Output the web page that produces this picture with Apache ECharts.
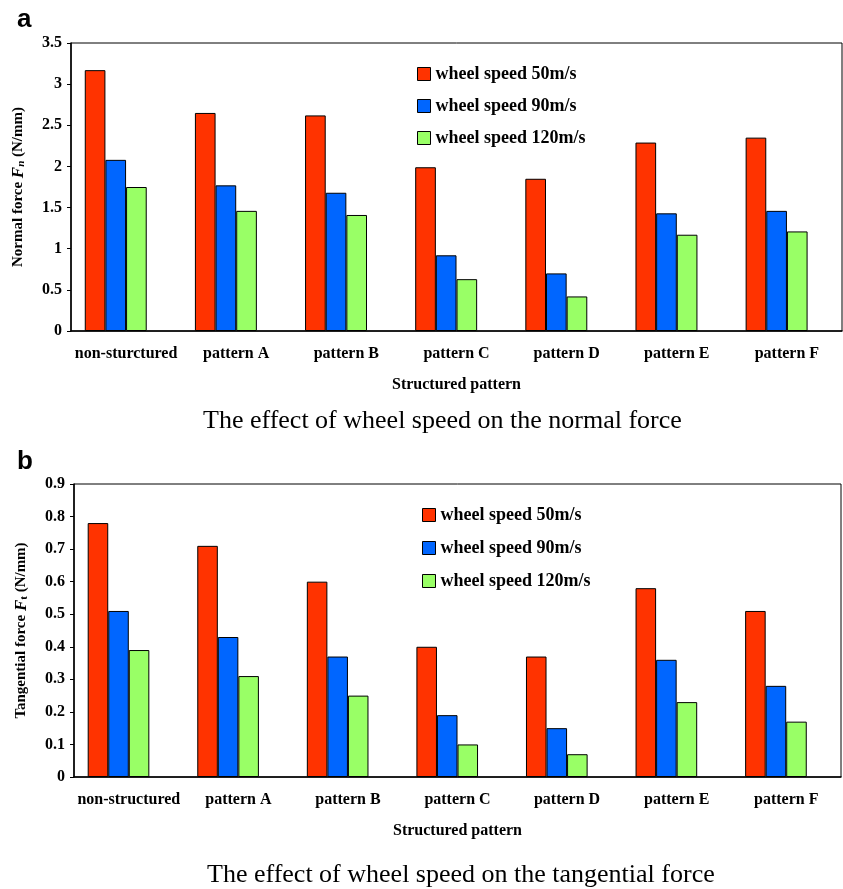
<!DOCTYPE html>
<html>
<head>
<meta charset="utf-8">
<script src="https://cdn.jsdelivr.net/npm/echarts@6/dist/echarts.min.js"></script>
<style>
  html, body { margin: 0; padding: 0; background: #fff; }
  #chart { width: 843px; height: 889px; }
</style>
</head>
<body>
<div id="chart"></div>
<script>
const patterns = ['non-sturctured', 'pattern A', 'pattern B', 'pattern C', 'pattern D', 'pattern E', 'pattern F']
const patternsB = ['non-structured', 'pattern A', 'pattern B', 'pattern C', 'pattern D', 'pattern E', 'pattern F']
const speedNames = ['wheel speed 50m/s', 'wheel speed 90m/s', 'wheel speed 120m/s']

// normal force Fn (N/mm)
const normal50 = [3.17, 2.65, 2.62, 1.99, 1.85, 2.29, 2.35]
const normal90 = [2.08, 1.77, 1.68, 0.92, 0.70, 1.43, 1.46]
const normal120 = [1.75, 1.46, 1.41, 0.63, 0.42, 1.17, 1.21]

// tangential force Ft (N/mm)
const tang50 = [0.78, 0.71, 0.60, 0.40, 0.37, 0.58, 0.51]
const tang90 = [0.51, 0.43, 0.37, 0.19, 0.15, 0.36, 0.28]
const tang120 = [0.39, 0.31, 0.25, 0.10, 0.07, 0.23, 0.17]

const colors = ['#FF3300', '#0066FF', '#99FF66']
const serif = '"Liberation Serif", "Times New Roman", serif'

const chart = echarts.init(document.getElementById('chart'), null, { renderer: 'canvas' })

const makeBars = (idx, sets) => {
  const list = sets.map((d, i) => ({
    name: speedNames[i],
    type: 'bar',
    xAxisIndex: idx,
    yAxisIndex: idx,
    data: d,
    barGap: '0%',
    barCategoryGap: '25%',
    itemStyle: { color: colors[i], borderColor: '#000', borderWidth: 1 },
    silent: true,
  }))
  // empty fourth slot, like the original spreadsheet layout
  list.push({
    name: 'blank',
    type: 'bar',
    xAxisIndex: idx,
    yAxisIndex: idx,
    data: patterns.map(() => null),
    barGap: '0%',
    barCategoryGap: '25%',
    silent: true,
  })
  return list
}

const tickLabel = { color: '#000', fontFamily: serif, fontWeight: 'bold', fontSize: 16 }

const xAxisBase = (idx, cats) => ({
  type: 'category',
  gridIndex: idx,
  data: cats,
  boundaryGap: true,
  axisLine: { lineStyle: { color: '#000', width: 1.5 } },
  axisTick: { inside: true, length: 6, lineStyle: { color: '#000' } },
  axisLabel: { ...tickLabel, interval: 0, margin: 15 },
  name: 'Structured pattern',
  nameLocation: 'middle',
  nameGap: 46,
  nameTextStyle: { color: '#000', fontFamily: serif, fontWeight: 'bold', fontSize: 16 },
})

const yRich = {
  b: { color: '#000', fontFamily: serif, fontWeight: 'bold', fontSize: 15 },
  i: { color: '#000', fontFamily: serif, fontWeight: 'bold', fontStyle: 'italic', fontSize: 17 },
  si: { color: '#000', fontFamily: serif, fontWeight: 'bold', fontStyle: 'italic', fontSize: 11, verticalAlign: 'bottom', padding: [6, 0, 0, 0] },
  s: { color: '#000', fontFamily: serif, fontWeight: 'bold', fontSize: 11, verticalAlign: 'bottom', padding: [6, 0, 0, 0] },
}

const yAxisBase = (idx, max, step, nameStr) => ({
  type: 'value',
  gridIndex: idx,
  min: 0,
  max: max,
  interval: step,
  axisLine: { show: true, lineStyle: { color: '#000', width: 1.5 } },
  axisTick: { show: true, inside: false, length: 4, lineStyle: { color: '#000' } },
  splitLine: { show: false },
  axisLabel: { ...tickLabel, margin: 9 },
  name: nameStr,
  nameLocation: 'middle',
  nameGap: 44,
  nameTextStyle: { rich: yRich },
})

const legendBase = (left, top, gap) => ({
  orient: 'vertical',
  left: left,
  top: top,
  data: speedNames,
  itemWidth: 13,
  itemHeight: 13,
  itemGap: gap,
  icon: 'rect',
  selectedMode: false,
  itemStyle: { borderColor: '#000', borderWidth: 1 },
  textStyle: { color: '#000', fontFamily: serif, fontWeight: 'bold', fontSize: 18 },
})

const option = {
  backgroundColor: '#fff',
  animation: false,
  title: [
    { text: 'a', left: 12, top: 2, textStyle: { fontFamily: '"Liberation Sans", Arial, sans-serif', fontWeight: 'bold', fontSize: 26, color: '#000' } },
    { text: 'b', left: 12, top: 444, textStyle: { fontFamily: '"Liberation Sans", Arial, sans-serif', fontWeight: 'bold', fontSize: 26, color: '#000' } },
    { text: 'The effect of wheel speed on the normal force', left: 198, top: 403, textStyle: { fontFamily: serif, fontWeight: 'normal', fontSize: 26, color: '#000' } },
    { text: 'The effect of wheel speed on the tangential force', left: 202, top: 857, textStyle: { fontFamily: serif, fontWeight: 'normal', fontSize: 26, color: '#000' } },
  ],
  legend: [legendBase(412, 60, 14), legendBase(417, 501, 15)],
  grid: [
    { left: 71, right: 1, top: 43, height: 288, show: true, borderColor: '#000', borderWidth: 1, containLabel: false },
    { left: 74, right: 2, top: 484, height: 293, show: true, borderColor: '#000', borderWidth: 1, containLabel: false },
  ],
  xAxis: [xAxisBase(0, patterns), xAxisBase(1, patternsB)],
  yAxis: [
    yAxisBase(0, 3.5, 0.5, '{b|Normal force }{i|F}{si|n}{b| (N/mm)}'),
    yAxisBase(1, 0.9, 0.1, '{b|Tangential force }{i|F}{s|t}{b| (N/mm)}'),
  ],
  series: [
    ...makeBars(0, [normal50, normal90, normal120]),
    ...makeBars(1, [tang50, tang90, tang120]),
  ],
}

chart.setOption(option)
</script>
</body>
</html>
